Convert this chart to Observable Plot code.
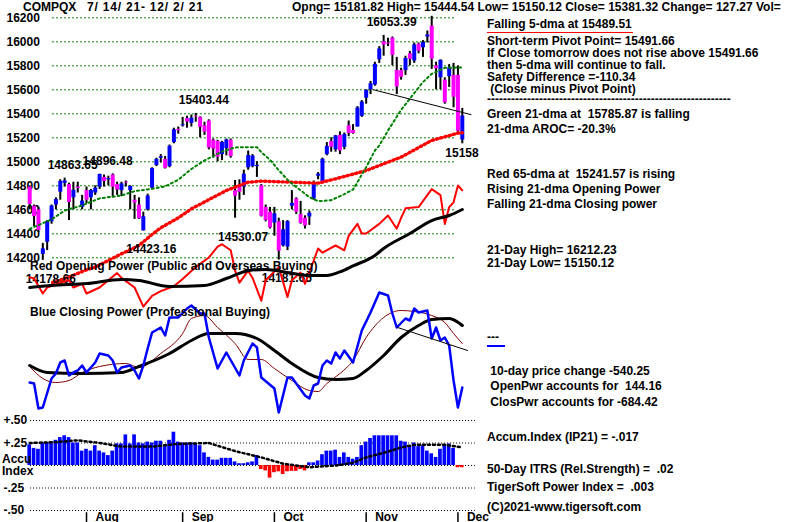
<!DOCTYPE html>
<html><head><meta charset="utf-8">
<script src="https://cdn.jsdelivr.net/npm/d3@7"></script>
<script src="https://cdn.jsdelivr.net/npm/@observablehq/plot@0.6"></script>
<style>
body{margin:0;background:#fff;}
#chart{position:relative;width:800px;height:522px;overflow:hidden;background:#fff;font-family:"Liberation Sans",Arial,sans-serif;font-weight:bold;font-size:12px;color:#000;}
#chart svg{position:absolute;left:0;top:0;}
.t{position:absolute;white-space:pre;line-height:11px;}
</style></head><body><div id="chart"></div>
<script>
// ---------------- DATA ----------------
const dates = ["7/14","7/15","7/16","7/19","7/20","7/21","7/22","7/23","7/26","7/27","7/28","7/29","7/30",
"8/2","8/3","8/4","8/5","8/6","8/9","8/10","8/11","8/12","8/13","8/16","8/17","8/18","8/19","8/20","8/23","8/24","8/25","8/26","8/27","8/30","8/31",
"9/1","9/2","9/3","9/7","9/8","9/9","9/10","9/13","9/14","9/15","9/16","9/17","9/20","9/21","9/22","9/23","9/24","9/27","9/28","9/29","9/30",
"10/1","10/4","10/5","10/6","10/7","10/8","10/11","10/12","10/13","10/14","10/15","10/18","10/19","10/20","10/21","10/22","10/25","10/26","10/27","10/28","10/29",
"11/1","11/2","11/3","11/4","11/5","11/8","11/9","11/10","11/11","11/12","11/15","11/16","11/17","11/18","11/19","11/22","11/23","11/24","11/26","11/29","11/30",
"12/1","12/2"];
const monthNames = ["Aug","Sep","Oct","Nov","Dec"];

const open = [14790,14630,14600,14228,14330,14500,14640,14747,14820,14810,
 14700,14790,14620,14760,14700,14740,14790,14870,14850,14890,
 14810,14760,14830,14760,14680,14640,14425,14600,14780,14970,
 15030,15020,14960,15160,15270,15300,15360,15320,15380,15370,
 15300,15340,15180,15170,15060,15110,15180,14758,14790,14790,
 14950,14960,14960,14800,14620,14580,14490,14500,14300,14290,
 14630,14690,14560,14530,14540,14690,14880,14830,15060,15170,
 15100,15220,15120,15300,15260,15290,15380,15530,15600,15640,
 15850,16000,15990,16030,15760,15760,15760,15900,15840,15980,
 15950,16040,16130,15800,15700,15680,15710,15720,15720,15181.82];
const high = [14800,14640,14620,14320,14510,14640,14700,14850,14863.65,14822,
 14830,14830,14720,14790,14770,14800,14896.48,14890,14880,14900,
 14830,14830,14840,14800,14720,14700,14580,14730,14950,15030,
 15060,15045,15140,15280,15290,15370,15380,15390,15403.44,15375,
 15330,15350,15190,15180,15170,15190,15190,14844,14850,14930,
 15090,15060,15000,14810,14640,14620,14620,14530,14510,14510,
 14760,14700,14670,14550,14590,14840,14910,15030,15160,15200,
 15220,15250,15240,15340,15310,15460,15510,15600,15670,15830,
 15960,16053.39,16030,16040,15870,15780,15880,15920,15990,15990,
 16010,16090,16212.23,15830,15850,15700,15810,15820,15800,15444.54];
const low = [14600,14460,14410,14178.66,14260,14480,14600,14680,14790,14510,
 14600,14740,14600,14650,14600,14720,14770,14790,14800,14700,
 14720,14710,14790,14600,14520,14520,14423.16,14590,14770,14960,
 14990,14940,14950,15150,15230,15290,15280,15290,15330,15200,
 15220,15100,15030,15000,15010,15050,15030,14530.07,14680,14720,
 14930,14950,14870,14540,14500,14440,14380,14181.65,14290,14260,
 14600,14560,14480,14440,14470,14680,14850,14820,15050,15080,
 15080,15060,15100,15210,15230,15290,15370,15480,15560,15630,
 15820,15880,15960,15800,15560,15680,15720,15800,15820,15900,
 15870,15990,15770,15600,15600,15480,15620,15450,15240,15150.12];
const close = [14645,14543,14427,14275,14499,14632,14685,14837,14841,14661,
 14763,14778,14673,14681,14761,14781,14895,14836,14860,14788,
 14765,14816,14823,14794,14656,14526,14542,14715,14943,15020,
 15042,14946,15130,15266,15259,15309,15331,15364,15374,15287,
 15248,15115,15106,15038,15162,15182,15044,14714,14746,14897,
 15052,15048,14970,14547,14512,14449,14567,14255,14434,14502,
 14654,14580,14486,14466,14572,14823,14897,15022,15129,15122,
 15216,15090,15227,15236,15236,15448,15498,15596,15650,15812,
 15940,15972,15982,15887,15623,15704,15861,15854,15974,15922,
 15994,16057,15855,15775,15845,15492,15783,15538,15254,15381.32];

// moving averages: [trading-day index, value]
const ma21 = [[0,14441],[5,14520],[8,14594],[12,14636],[16,14695],[21,14719],[24,14755],[28,14775],[31,14795],[34,14850],[37,14940],[40,15011],[44,15085],[47,15120],[52,15122],[53,15080],[55,15016],[57,14930],[59,14850],[61,14790],[64,14705],[66,14672],[69,14680],[72,14730],[74,14770],[75,14830],[77,14955],[79,15094],[80,15136],[82,15261],[85,15433],[88,15572],[90,15664],[92,15733],[95,15783],[99,15786]];
const ma65 = [[5,13990],[9,14040],[13,14100],[15,14122],[21,14233],[25,14302],[28,14395],[30,14450],[34,14533],[37,14608],[45,14761],[50,14830],[53,14839],[60,14830],[66,14822],[70,14858],[77,14927],[85,15039],[92,15178],[98,15239],[99,15242]];
const priceTrend = [[78.7,15600],[101,15393]];

// price extremes annotated on the chart
const extremeDay = [3,8,16,26,38,47,57,81,99];
const extremeText = ["14178.66","14863.65","14896.48","14423.16","15403.44","14530.07","14181.65","16053.39","15158"];
const extremeKind = ["low","high","high","low","high","low","low","high","low"];

// Opening Power (relative units 0-100)
const openPower = [[0,23.6],[1,22.5],[3,10],[4,15],[7,19],[9,21],[10,15],[12,18],[13,10],[16,15],[18,21],[20,27],[21,23],[24,15],[26,-1],[28,8],[30,12],[33,16],[35,22],[38,32],[41,40],[43,49],[44,51],[46,46],[47,29],[48,19],[50,29],[51,23],[53,4],[54,21],[57,32],[59,7],[60,21],[62,27.5],[63,18],[65,37.5],[66,47.5],[67,44],[70,50],[72,46],[73,58],[75,68],[76,60],[77,60],[80,68],[82,75],[84,64],[85,73],[86,81],[89,82],[91,92],[92,97],[94,92],[95,68],[96,82],[97,86],[98,100],[99,96]];
const openPowerMA = [[0,15],[5,16.7],[13,18.3],[21,21.7],[25,20.8],[32,15.8],[40,16.7],[45,22.5],[50,29],[54,30],[59,27.5],[64,25],[68,25],[71,28],[74,33],[79,41.7],[81,47.5],[87,60],[92,70.8],[96,75],[99,80]];

// Closing Power (relative units 0-100)
const closePower = [[0,26.4],[1,25.6],[2,5.6],[3,6.4],[5,29.6],[6,33.6],[7,42.4],[8,44],[9,32],[10,34.4],[11,36],[12,40],[13,34.4],[15,42.4],[16,49.6],[18,48],[19,44],[20,34.4],[21,38.4],[23,40],[24,36],[25,29.6],[26,40],[27,53.6],[28,66.4],[30,70.4],[31,64],[32,78.4],[34,78.4],[36,85.6],[37,88],[39,81.6],[40,81.6],[41,62.4],[43,37.6],[45,50.4],[48,32],[49,44],[51,57.6],[52,54.4],[53,30.4],[56,21.6],[57,2.4],[59,30.4],[60,30.4],[63,16],[64,13.6],[65,24],[66,25.6],[67,40],[68,44],[69,41.6],[70,50.4],[71,45.6],[72,52],[74,42.4],[76,68],[78,82.4],[80,98.4],[82,96],[83,81.6],[84,70.4],[86,77.6],[87,76],[88,85.6],[89,82.4],[91,84],[92,61.6],[93,70.4],[94,60],[95,62.4],[96,56],[97,28],[98,6.4],[99,22.4]];
const closePowerMA21 = [[0,39.2],[3,29.6],[6,26.4],[9,28],[12,34.4],[16,39.2],[22,41.6],[25,38.4],[30,49.6],[35,65.6],[37,77.6],[40,80],[43,70.4],[47,57.6],[50,44.8],[53,44.8],[56,37.6],[60,28],[64,20],[66,19.2],[68,25.6],[71,33.6],[74,44],[77,62.4],[81,78.4],[85,84],[88,83.2],[92,80],[95,74.4],[97,65.6],[99,57.6]];
const closePowerMA = [[0,40],[4,34.4],[12,33.6],[21,34.4],[25,39.2],[32,49.6],[37,60],[41,65.6],[47,65.6],[52,61.6],[56,52],[60,41.6],[66,30.4],[70,28.8],[74,29.6],[77,36],[81,48],[85,62.4],[89,72],[92,76.8],[96,77.6],[99,72]];
const cpTrend = [[84.2,70.4],[100.2,52]];

// Accumulation Index (IP21)
const accum = [.23,.19,.18,.25,.25,.26,.28,.31,.33,.31,
 .25,.25,.16,.18,.16,.22,.16,.14,.11,.16,
 .24,.24,.34,.24,.34,.25,.24,.26,.25,.27,
 .27,.21,.28,.37,.26,.25,.25,.25,.24,.22,
 .14,.09,.06,.06,.08,.08,.08,.04,.02,.02,
 .03,.04,.11,-.045,-.06,-.14,-.08,-.07,-.10,-.07,
 -.065,-.065,-.045,-.06,.03,.03,.05,.12,.16,.16,
 .17,.09,.14,.09,.07,.09,.22,.26,.30,.33,
 .33,.33,.33,.33,.33,.27,.26,.22,.25,.21,
 .22,.16,.13,.09,.18,.22,.24,.19,-.025,-.025];
const accumMA = [[0,.25],[6,.26],[11,.28],[16,.25],[21,.21],[28,.21],[34,.24],[41,.25],[47,.16],[53,.09],[58,.02],[64,-.02],[70,0],[74,.03],[77,.09],[81,.14],[85,.20],[88,.23],[95,.23],[99,.20]];

const priceTicks = [14200,14400,14600,14800,15000,15200,15400,15600,15800,16000,16200];
const accumTicks = [0.5,0.25,-0.25,-0.5];
const accumTickLabels = ["+.50","+.25","-.25","-.50"];
const accumGrid = [0.5,0.25,0,-0.25,-0.5];

// ---------------- DRAWING ----------------
const chart = document.getElementById("chart");
const FONT = '"Liberation Sans", Arial, sans-serif';
const X = {domain:[0,99], range:[29.2,461.8], axis:null};
const base = {width:800, height:522, margin:0, color:{type:"identity"},
  style:{background:"transparent", overflow:"visible", fontFamily:FONT, fontSize:"12px", fontWeight:"bold"}};
function panel(y, marks){
  const svg = Plot.plot({...base, x:X, y:{...y, axis:null}, marks});
  chart.append(svg);
}
const P = d=>d[0], V = d=>d[1];
const candles = dates.map((d,i)=>({i, o:open[i], h:high[i], l:low[i], c:close[i]}));
const ex = extremeDay.map((d,k)=>({i:d, kind:extremeKind[k], text:extremeText[k],
  v: extremeKind[k]==="high" ? high[d] : low[d], last: d===dates.length-1}));
const monthStarts = [];
dates.forEach((d,i)=>{ if(i>0 && d.split("/")[0]!==dates[i-1].split("/")[0]) monthStarts.push(i); });
const months = monthStarts.map((i,k)=>({i, name:monthNames[k]}));
const lbl = (data, dy)=>Plot.text(data, {x:"i", y:"v", text:"text", textAnchor:"start", dx:-17, dy, fontSize:12, fontWeight:"bold", fill:"black"});

// price panel
panel({domain:[14200,16200], range:[257.3,17.3]}, [
  Plot.ruleY(priceTicks, {y:d=>d, x1:5.2, x2:97.4, stroke:"#008000", strokeDasharray:"2,2"}),
  Plot.text(priceTicks, {y:d=>d, text:d=>String(d), frameAnchor:"left", dx:6, textAnchor:"start", fontSize:12, fontWeight:"bold", fill:"black"}),
  Plot.ruleX(candles, {x:"i", y1:"l", y2:"h", stroke:"black", strokeWidth:2}),
  Plot.ruleX(candles, {x:"i", y1:"o", y2:"c", stroke:d=>d.c>=d.o?"#0000ff":"#ff00ff", strokeWidth:4}),
  // 65-dma drawn as a chain of small red crosses
  Plot.line(ma65, {x:P, y:V, stroke:"#ff0000", strokeWidth:1.2, strokeDasharray:"3.4,1"}),
  Plot.line(ma65, {x:P, y:V, stroke:"#ff0000", strokeWidth:3.4, strokeDasharray:"1.2,3.2", strokeDashoffset:-1.1}),
  // 21-dma drawn as green dots
  Plot.line(ma21, {x:P, y:V, stroke:"#008000", strokeWidth:2, strokeDasharray:"2,3"}),
  Plot.line(priceTrend, {x:P, y:V, stroke:"black", strokeWidth:1}),
  lbl(ex.filter(d=>d.kind==="high"), -13),
  lbl(ex.filter(d=>d.kind==="low" && !d.last), 18.5),
  lbl(ex.filter(d=>d.last), 9)
]);

// opening power panel
panel({domain:[0,100], range:[305,185]}, [
  Plot.line(openPower, {x:P, y:V, stroke:"#ff0000", strokeWidth:2}),
  Plot.line(openPowerMA, {x:P, y:V, stroke:"black", strokeWidth:3, curve:"monotone-x"})
]);

// closing power panel
panel({domain:[0,100], range:[415,290]}, [
  Plot.line(closePowerMA21, {x:P, y:V, stroke:"#800000", strokeWidth:1, curve:"monotone-x"}),
  Plot.line(closePowerMA, {x:P, y:V, stroke:"black", strokeWidth:3, curve:"monotone-x"}),
  Plot.line(closePower, {x:P, y:V, stroke:"#0000ff", strokeWidth:2.5}),
  Plot.line(cpTrend, {x:P, y:V, stroke:"black", strokeWidth:1})
]);

// accumulation index panel
const bars = accum.map((v,i)=>({i, v}));
panel({domain:[-0.5,0.5], range:[510,420]}, [
  Plot.ruleY(accumGrid, {y:d=>d, x1:0.2, x2:102, stroke:"black", strokeDasharray:"1,2"}),
  Plot.rectY(bars, {x1:d=>d.i-0.42, x2:d=>d.i+0.42, y1:0, y2:"v", fill:d=>d.v>=0?"#0000ff":"#ff0000"}),
  Plot.line(accumMA, {x:P, y:V, stroke:"black", strokeWidth:2.5, strokeDasharray:"2,3"}),
  Plot.text(accumTicks, {y:d=>d, text:(d,k)=>accumTickLabels[k], frameAnchor:"left", dx:3, textAnchor:"start", fontSize:12, fontWeight:"bold", fill:"black"}),
  Plot.ruleX(months, {x:"i", y1:-0.525, y2:-0.66, stroke:"black", strokeWidth:1.5}),
  Plot.text(months, {x:"i", y:-0.62, text:"name", dx:9, textAnchor:"start", lineAnchor:"bottom", fontSize:12, fontWeight:"bold", fill:"black"})
]);

// texts
function txt(x, baseline, s, extra){
  const d = document.createElement("div");
  d.className = "t";
  d.style.left = x+"px";
  d.style.top = (baseline-9.66)+"px";
  d.textContent = s;
  if (extra) Object.assign(d.style, extra);
  chart.append(d);
  return d;
}
txt(23, 11.2, "COMPQX");
txt(87, 11.2, "7/ 14/ 21- 12/ 2/ 21", {letterSpacing:"0.8px"});
txt(292, 11.2, "Opng= 15181.82 High= 15444.54 Low= 15150.12 Close= 15381.32 Change= 127.27 Vol=");
txt(487, 29, "Falling 5-dma at 15489.51");
txt(487, 45.5, "Short-term Pivot Point= 15491.66");
txt(487, 57.8, "If Close tomorrow does not rise above 15491.66");
txt(487, 70, "then 5-dma will continue to fall.");
txt(487, 81.5, "Safety Difference =-110.34");
txt(487, 93.5, " (Close minus Pivot Point)");
txt(487, 103.5, "-".repeat(61));
txt(487, 118.5, "Green 21-dma at  15785.87 is falling");
txt(487, 133.5, "21-dma AROC= -20.3%");
txt(487, 178.5, "Red 65-dma at  15241.57 is rising");
txt(487, 193.5, "Rising 21-dma Opening Power");
txt(487, 208.5, "Falling 21-dma Closing power");
txt(487, 254.5, "21-Day High= 16212.23");
txt(487, 268, "21-Day Low= 15150.12");
txt(487, 341.5, "---");
txt(487, 376, " 10-day price change -540.25");
txt(487, 390.5, " OpenPwr accounts for  144.16");
txt(487, 407, " ClosPwr accounts for -684.42");
txt(487, 442, "Accum.Index (IP21) = -.017");
txt(487, 473.5, "50-Day ITRS (Rel.Strength) =  .02");
txt(487, 492, "TigerSoft Power Index =  .003");
txt(487, 512, "(C)2021-www.tigersoft.com");
txt(30, 270.5, "Red Opening Power (Public and Overseas Buying)");
txt(30, 317, "Blue Closing Power (Professional Buying)");
txt(2, 463.5, "Accu");
txt(2, 475.5, "Index");
const u = document.createElement("div");
Object.assign(u.style, {position:"absolute", left:"487px", top:"32px", width:"146px", height:"1px", background:"#ff0000"});
chart.append(u);
const b = document.createElement("div");
Object.assign(b.style, {position:"absolute", left:"487px", top:"345px", width:"18px", height:"2px", background:"#0000ff"});
chart.append(b);
</script>
</body></html>
